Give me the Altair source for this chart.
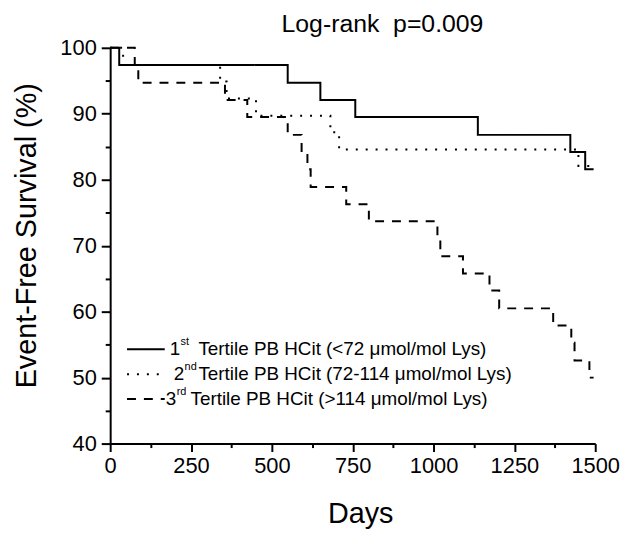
import altair as alt
import pandas as pd

# ---- data ----
series_names = ["1st", "2nd", "3rd"]

t1_days = [0, 28, 549, 650, 758, 1137, 1423, 1469, 1495]
t1_surv = [100, 97.4, 94.7, 92.1, 89.5, 86.8, 84.2, 81.6, 81.6]

t2_days = [0, 40, 340, 360, 451, 681, 708, 1448, 1495]
t2_surv = [100, 97.4, 94.9, 92.3, 89.7, 87.2, 84.6, 82.1, 82.1]

t3_days = [0, 76, 87, 355, 424, 549, 592, 610, 620, 730, 800, 1012, 1021,
           1091, 1173, 1203, 1370, 1426, 1436, 1482, 1495]
t3_surv = [100, 97.4, 94.7, 92.1, 89.5, 86.8, 84.2, 81.6, 78.9, 76.3, 73.7,
           71.1, 68.4, 65.8, 63.2, 60.5, 57.9, 55.3, 52.6, 50.0, 50.0]

legend_ordinals = ["1", "2", "3"]
legend_sups = ["st", "nd", "rd"]
legend_texts = [
    "Tertile PB HCit (<72 \u03bcmol/mol Lys)",
    "Tertile PB HCit (72-114 \u03bcmol/mol Lys)",
    "Tertile PB HCit (>114 \u03bcmol/mol Lys)",
]

x_major = [0, 250, 500, 750, 1000, 1250, 1500]
x_minor = [125, 375, 625, 875, 1125, 1375]
y_major = [40, 50, 60, 70, 80, 90, 100]
y_minor = [45, 55, 65, 75, 85, 95]

title_text = "Log-rank\u00a0\u00a0p=0.009"
x_title = "Days"
y_title = "Event-Free Survival (%)"

# ---- build table ----
frames = []
for name, d, s in zip(series_names, [t1_days, t2_days, t3_days], [t1_surv, t2_surv, t3_surv]):
    frames.append(pd.DataFrame({"days": d, "surv": s, "series": name}))
df = pd.concat(frames, ignore_index=True)

FONT = "Liberation Sans"
dashes = [[1, 0], [2, 8], [9, 8]]

xscale = alt.Scale(domain=[0, 1500], nice=False, zero=False)
yscale = alt.Scale(domain=[40, 100], nice=False, zero=False)

lines = alt.Chart(df).mark_line(interpolate="step-after", color="black", strokeWidth=2).encode(
    x=alt.X("days:Q", scale=xscale,
            axis=alt.Axis(values=x_major, format="d", title=x_title, tickSize=8, labelFontSize=22,
                          labelPadding=4, titleFontSize=29, titlePadding=24, orient="bottom",
                          labelFlush=False, titleX=252)),
    y=alt.Y("surv:Q", scale=yscale,
            axis=alt.Axis(values=y_major, format="d", title=y_title, tickSize=9, labelFontSize=22,
                          labelPadding=5, titleFontSize=29, titlePadding=19, orient="left",
                          labelFlush=False, titleY=189)),
    strokeDash=alt.StrokeDash("series:N", scale=alt.Scale(domain=series_names, range=dashes),
                              legend=None),
)

minor = alt.Chart(df).mark_point(opacity=0).encode(
    x=alt.X("days:Q", scale=xscale,
            axis=alt.Axis(values=x_minor, labels=False, domain=False, tickSize=4,
                          title=None, orient="bottom")),
    y=alt.Y("surv:Q", scale=yscale,
            axis=alt.Axis(values=y_minor, labels=False, domain=False, tickSize=5,
                          title=None, orient="left")),
)

# ---- hand-built legend (to allow superscripts) ----
one = pd.DataFrame({"k": [0]})
row_y = [304, 329, 354]
num_x = [60, 64, 56]
sup_x = [71, 75, 67]
txt_x = [89, 89, 81]
legend_layers = []
for i in range(3):
    legend_layers.append(
        alt.Chart(one).mark_rule(color="black", strokeWidth=2, strokeDash=dashes[i]).encode(
            x=alt.value(17), x2=alt.value(55), y=alt.value(row_y[i]))
    )
    legend_layers.append(
        alt.Chart(one).mark_text(text=legend_ordinals[i], align="left", baseline="middle",
                                 fontSize=19, font=FONT, color="black").encode(
            x=alt.value(num_x[i]), y=alt.value(row_y[i]))
    )
    legend_layers.append(
        alt.Chart(one).mark_text(text=legend_sups[i], align="left", baseline="middle",
                                 fontSize=11, font=FONT, color="black").encode(
            x=alt.value(sup_x[i]), y=alt.value(row_y[i] - 7))
    )
    legend_layers.append(
        alt.Chart(one).mark_text(text=legend_texts[i], align="left", baseline="middle",
                                 fontSize=19, font=FONT, color="black").encode(
            x=alt.value(txt_x[i]), y=alt.value(row_y[i]))
    )

chart = alt.layer(lines, minor, *legend_layers).resolve_axis(
    x="independent", y="independent"
).properties(
    width=489, height=399,
    padding={"left": 103, "top": 38, "right": 28, "bottom": 88},
    autosize=alt.AutoSizeParams(type="none"),
    title=alt.TitleParams(title_text, fontSize=25, font=FONT, fontWeight="normal",
                          anchor="middle", offset=0, dx=30, color="black"),
).configure_view(stroke=None).configure_axis(
    domainColor="black", domainWidth=2, tickColor="black", tickWidth=2,
    labelColor="black", titleColor="black", grid=False,
    labelFont=FONT, titleFont=FONT, titleFontWeight="normal",
)

chart.save("out.html", embed_options={"renderer": "svg", "actions": False})
